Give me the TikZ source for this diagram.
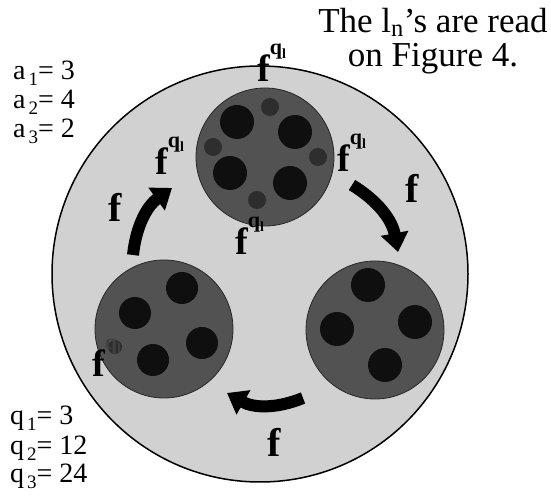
\documentclass[tikz,border=0pt]{standalone}
\usepackage{fontspec}
\setmainfont{Liberation Serif}
\usetikzlibrary{arrows.meta}

% f to the power q_l
\newcommand{\fql}[1][black]{f\raisebox{27pt}{\fontsize{22}{22}\selectfont\color{#1}q\raisebox{-4pt}{\fontsize{14}{14}\selectfont l}}}
% low index, as in a 1
\newcommand{\lowidx}[1]{\kern3pt\raisebox{-6pt}{\fontsize{19}{19}\selectfont #1}}

\begin{document}
\begin{tikzpicture}[x=1pt, y=1pt,
    ring/.style={circle, draw=black, line width=1.5pt, fill=black!18, inner sep=0pt, minimum size=416pt},
    wheel/.style={circle, draw=black!85, line width=0.8pt, fill=black!68, inner sep=0pt, minimum size=138pt},
    blob/.style={circle, fill=black!94, inner sep=0pt, minimum size=34pt},
    ghost/.style={circle, fill=black!82, inner sep=0pt, minimum size=18pt},
    turn/.style={line width=12pt, -{Triangle[width=27pt, length=19pt]}},
    flbl/.style={font=\fontsize{38}{38}\selectfont\bfseries, inner sep=0pt, anchor=base west},
    fbig/.style={font=\fontsize{40}{40}\selectfont\bfseries, inner sep=0pt, anchor=base west},
    num/.style={font=\fontsize{28}{28}\selectfont, inner sep=0pt, anchor=base west},
    note/.style={font=\fontsize{35}{34}\selectfont, inner sep=0pt, align=center}]
  \useasboundingbox (0,0) rectangle (551,502);

  % Big disc and the three wheels
  \node[ring] (big) at (260,228) {};
  \node[wheel] (top) at (265,345) {};
  \node[wheel] (right) at (375,172) {};
  \node[wheel] (left) at (164,173) {};

  % Blobs in the top wheel
  \node[ghost] (t5) at (270,395) {};
  \node[ghost] (t6) at (213,355) {};
  \node[ghost] (t7) at (318,345) {};
  \node[ghost] (t8) at (257,302) {};
  \node[blob] (t1) at (237,380) {};
  \node[blob] (t2) at (295,370) {};
  \node[blob] (t3) at (230,329) {};
  \node[blob] (t4) at (290,319) {};

  % Blobs in the right wheel
  \node[blob] (r1) at (368,217) {};
  \node[blob] (r2) at (337,173) {};
  \node[blob] (r3) at (415,180) {};
  \node[blob] (r4) at (385,137) {};

  % Blobs in the left wheel
  \node[ghost, minimum size=14pt] (l5) at (115,155) {};
  \node[blob, minimum size=32pt] (l1) at (182,214) {};
  \node[blob, minimum size=32pt] (l2) at (135,189) {};
  \node[blob, minimum size=32pt] (l3) at (202,159) {};
  \node[blob, minimum size=32pt] (l4) at (153,142) {};

  % Arrows (clockwise)
  \coordinate (ulA) at (133,247);
  \coordinate (ulB) at (172,314);
  \coordinate (rA) at (352,317);
  \coordinate (rB) at (398,250);
  \coordinate (bA) at (303,104);
  \coordinate (bB) at (227,109);
  \draw[turn] (ulA) to[bend left=24] (ulB);
  \draw[turn] (rA) to[bend left=24] (rB);
  \draw[turn] (bA) to[bend left=26] (bB);

  % Labels f
  \node[fbig] (f1) at (108,280) {f};
  \node[fbig] (f2) at (405,299) {f};
  \node[fbig] (f3) at (267,45) {f};

  % Labels f^{q_l}
  \node[flbl] (fq1) at (257,420) {\fql};
  \node[flbl] (fq2) at (155,327) {\fql};
  \node[flbl] (fq3) at (337,330) {\fql};
  \node[flbl] (fq4) at (235,247) {\fql};
  \node[flbl] (fq5) at (92,125) {\fql[black!75]};

  % Values
  \node[num] (a1) at (13,422) {a\lowidx{1}= 3};
  \node[num] (a2) at (13,393) {a\lowidx{2}= 4};
  \node[num] (a3) at (13,364) {a\lowidx{3}= 2};
  \node[num] (q1) at (10,77) {q\lowidx{1}= 3};
  \node[num] (q2) at (10,47) {q\lowidx{2}= 12};
  \node[num] (q3) at (10,19) {q\lowidx{3}= 24};

  % Note
  \node[note, anchor=north] (note) at (433,494) {The l\textsubscript{n}'s are read\\on Figure 4.};
\end{tikzpicture}
\end{document}
